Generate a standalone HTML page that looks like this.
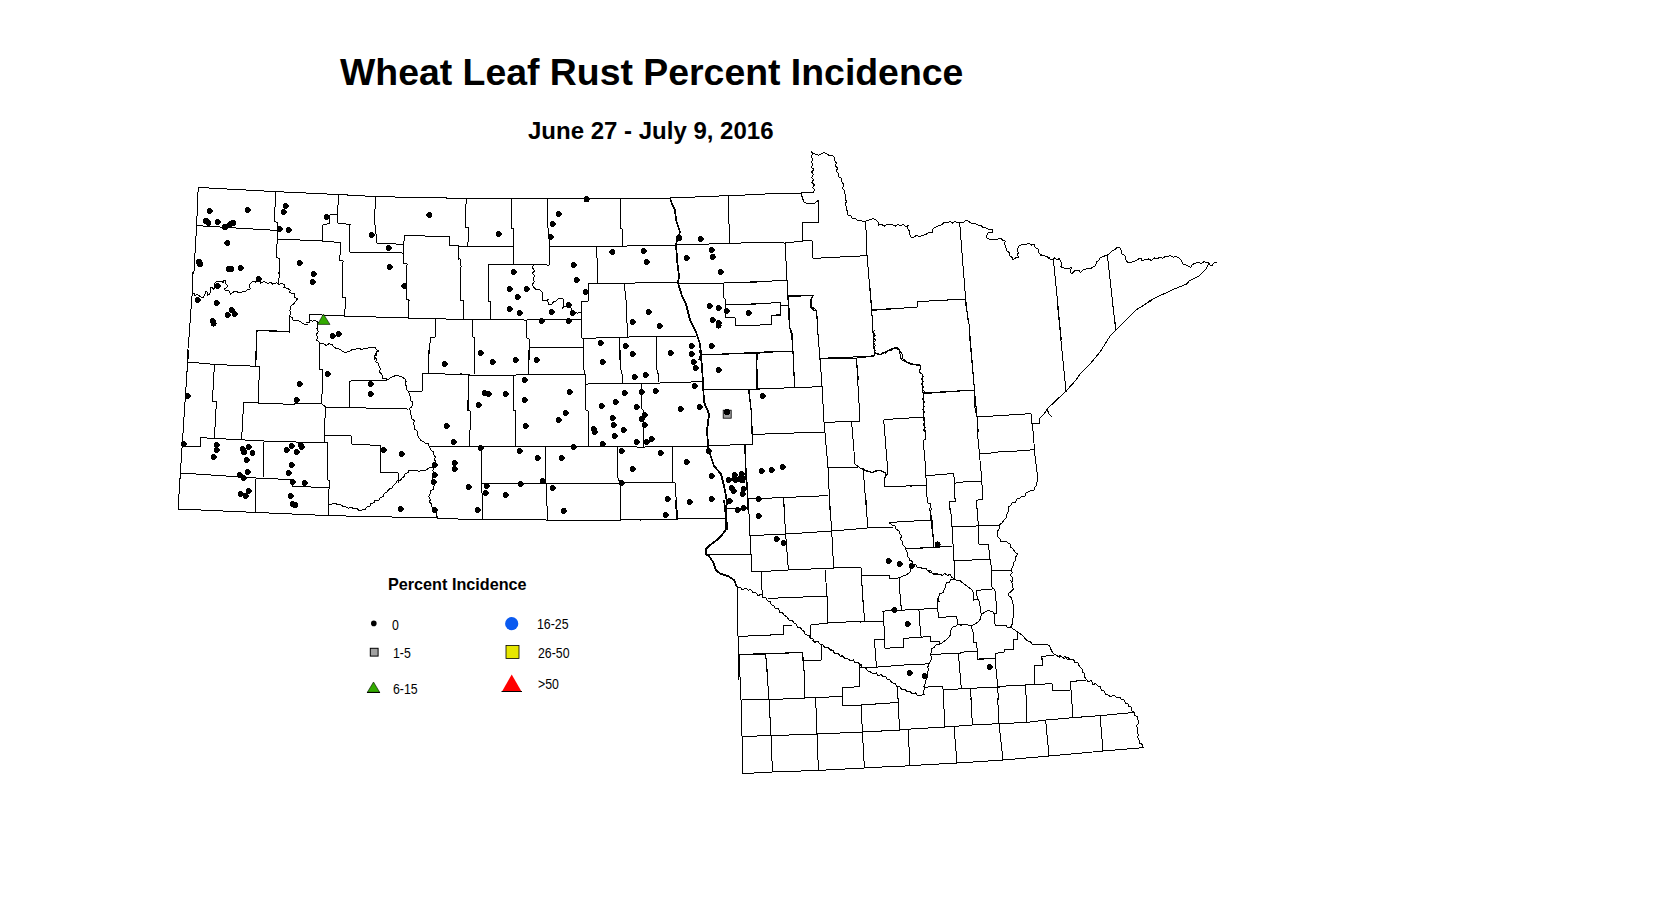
<!DOCTYPE html>
<html><head><meta charset="utf-8">
<style>
html,body{margin:0;padding:0;background:#fff;width:1673px;height:900px;overflow:hidden}
body{position:relative;font-family:"Liberation Sans",sans-serif;color:#000}
.t{position:absolute;white-space:nowrap;line-height:1}
#title{left:340px;top:54px;font-size:37.4px;font-weight:bold}
#sub{left:528px;top:119px;font-size:24px;font-weight:bold}
#lt{left:388px;top:576px;font-size:16.2px;font-weight:bold}
.lab{font-size:14px;transform:scaleX(0.88);transform-origin:0 0}
svg{position:absolute;left:0;top:0}
</style></head><body>
<div class="t" id="title">Wheat Leaf Rust Percent Incidence</div>
<div class="t" id="sub">June 27 - July 9, 2016</div>
<div class="t" id="lt">Percent Incidence</div>
<div class="t lab" style="left:392px;top:618px">0</div>
<div class="t lab" style="left:393px;top:646px">1-5</div>
<div class="t lab" style="left:393px;top:682px">6-15</div>
<div class="t lab" style="left:537px;top:617px">16-25</div>
<div class="t lab" style="left:538px;top:646px">26-50</div>
<div class="t lab" style="left:538px;top:677px">&gt;50</div>
<svg width="1673" height="900" viewBox="0 0 1673 900">
<circle cx="373.8" cy="623.4" r="2.8" fill="#000"/>
<rect x="370.3" y="648.3" width="7.8" height="7.8" fill="#a0a0a0" stroke="#000" stroke-width="1"/>
<polygon points="367.3,692.3 379.7,692.3 373.5,682" fill="#33aa00" stroke="#000" stroke-width="0.6"/><line x1="367" y1="692.5" x2="380" y2="692.5" stroke="#000" stroke-width="1"/>
<circle cx="511.7" cy="623.7" r="6.6" fill="#0a5af0"/>
<rect x="506" y="645.5" width="13" height="13" fill="#e6e600" stroke="#000" stroke-width="0.8"/>
<polygon points="502,691.5 521.5,691.5 511.7,674.5" fill="#ff0000"/><line x1="501.5" y1="691.5" x2="522" y2="691.5" stroke="#000" stroke-width="1"/>
<g fill="none" stroke="#000" stroke-width="1" stroke-linejoin="round" shape-rendering="crispEdges" transform="translate(0.03,0.03)">
<polyline points="187,360 190,324.6"/>
<polyline points="193.8,274 196.6,225.6 198.2,187.4 275.6,191.6 341,194.6 375.6,196.6 432,197.7"/>
<polyline points="196.6,225.6 277,230.4"/>
<polyline points="275.6,191.6 274.4,221 277,222.4 277.4,239 276,257 279.4,258.6 278.9,274"/>
<polyline points="277.4,239 322.4,241 341,242.6"/>
<polyline points="322.4,241 323,225 329,223.6 329.4,215 337.6,214.4 338.4,194.6"/>
<polyline points="337.6,214.4 337.6,223 350,224.4 349.6,252 403,253"/>
<polyline points="375.6,196.6 374.4,220 377,243 404.4,244.4"/>
<polyline points="404.4,235.6 432,236.1"/>
<polyline points="404.4,235.6 403,253 403.6,263 407,264 406,299 409,300 408.4,318"/>
<polyline points="341,242.6 339.6,260 343,261 342.4,297 345.6,298 344.6,316"/>
<polyline points="459.8,258 461,266 460.4,300 463.6,301 463.6,319"/>
<polyline points="309,314.4 344.6,316 408.4,318 470,319.6"/>
<polyline points="309,314.4 309,322.4"/>
<polyline points="435.6,319 435,337 430.4,338 428.4,360"/>
<polyline points="319.6,344 319.6,360"/>
<polyline points="256,360 256.6,330.4 289.6,332 289.8,330"/>
<polyline points="929.6,508 934,546"/>
<polyline points="920,520 932,520"/>
<polyline points="920,548 952,546"/>
<polyline points="950.5,508 952,527 954,561 955,579"/>
<polyline points="977.4,508 979,544 988.4,544 990,559 992,571 1011,570"/>
<polyline points="952,527 999,525"/>
<polyline points="954,561 990,559"/>
<polyline points="738,640 739,654.4 741,700 742,736.4 742.4,773.6 772,772 818,770.4 864,768 900,766"/>
<polyline points="739,654.4 765.6,654 802.4,652.4 803.6,661 821,660.4 821,644"/>
<polyline points="765.6,654 769,699.6 771,735.6 772.4,772"/>
<polyline points="803.6,661 805,698"/>
<polyline points="741,700 769,699.6 805,698 842,696.4"/>
<polyline points="842,688 860,686.4 859,664.4"/>
<polyline points="842,688 842.4,705.6 861,705 898,702.4"/>
<polyline points="861,705 862.4,732 864.4,768"/>
<polyline points="742,736.4 771,735.6 817,734 862.4,732 900,730"/>
<polyline points="815.6,698 817,734 818.4,770.4"/>
<polyline points="898,698 898,702.4 899.6,729.6"/>
<polyline points="900,766.4 910,765.6 957,763 1003,760 1049,756 1103,751 1143,747.6"/>
<polyline points="1134,712.4 1100,715.6 1073,717.6 1046,720 1027,722.4 999,723.6 972,725 945,727 900,729.6"/>
<polyline points="908,729.6 910,765.6"/>
<polyline points="954,727 957,763"/>
<polyline points="999,723.6 1003,760"/>
<polyline points="1045.6,720 1049,756"/>
<polyline points="1100,715.6 1103,751"/>
<polyline points="943.4,698 945,727"/>
<polyline points="970.9,698 972.4,725"/>
<polyline points="997.6,698 999,723.6"/>
<polyline points="1025.6,684.4 1027,722.4"/>
<polyline points="1071,690.4 1073,717.6"/>
<polyline points="998,686.4 1052,683.6 1053,691 1070.4,690 1070.4,681.6 1086,680"/>
<polyline points="1034,666 1042.4,665.6 1042.4,658"/>
<polyline points="1034,666 1035,684"/>
<polyline points="787.8,280 788,296.7 788.9,305.3 789.4,324.4 790.6,332.8 792.4,333.1 792.8,351.1 794.4,380"/>
<polyline points="740,325.6 760,325 771.7,324.4 771.7,315.6 780.6,314.4 780.6,305.6 788.9,305.3"/>
<polyline points="740,353.3 756.7,352.2 792.8,351.1"/>
<polyline points="756.7,352.8 757.2,380"/>
<polyline points="788,296.7 813.3,295.3 811.1,297.8 810.2,306.7 813.3,310 816.4,310.6 817.8,331.1 819.8,358.3 821.7,380"/>
<polyline points="819.8,358.3 874.4,356.1"/>
<polyline points="869.4,280 871.7,310 873.9,346.7 874.4,356.1"/>
<polyline points="871.7,310 900,308"/>
<polyline points="874.4,352.2 880,355 886.7,351.1 895.6,347.2 900,351.1"/>
<polyline points="856.4,357.8 858.3,380"/>
<polyline points="860,622.2 864.4,621.3 883.3,621.1"/>
<polyline points="863.3,600 864.4,621.3"/>
<polyline points="882.2,611.1 901.1,610.2 915.6,609.4 937.2,608.3"/>
<polyline points="900.6,600 901.3,610.2"/>
<polyline points="937.2,600 937.8,608.3 938.3,617.2 956.7,616.7 957.8,624.4 962,624.4"/>
<polyline points="918.9,609.8 920.6,635.6 921.7,637.2"/>
<polyline points="883.3,611.1 885,648.3 903.3,647.2 903.9,638.3 921.7,637.2 930,636.1 930.6,641.1 939.4,641.1 939.4,644.4"/>
<polyline points="874.4,639.4 883.9,639.1"/>
<polyline points="874.4,639.4 876.4,667.2"/>
<polyline points="939.4,644.4 942.2,642.8 947.8,638.3 950,635.6 950.6,630.6 952.2,627.2 956.7,625.6"/>
<polyline points="860,667.2 875.6,667.2 914.4,664.2 928.9,663.9"/>
<polyline points="930,654.4 958.3,653.3 962,652.9"/>
<polyline points="958.3,653.3 961.3,688.9"/>
<polyline points="977.7,658 977.8,659.4 995,658.3 995.1,658"/>
<polyline points="995,658.3 997.8,687.2"/>
<polyline points="924.4,687.2 942.2,686.1 943.3,690 968.3,688.3 997.8,687.2 1000,687.2"/>
<polyline points="943.3,690 943.9,700"/>
<polyline points="970.6,688.3 971.1,700"/>
<polyline points="897.8,687.2 898,700"/>
<polyline points="997.6,686 998.4,700"/>
<polyline points="925.6,430 925.6,438.9 923.3,440.7 923.3,449.6 924.2,450.4 925.1,462.9 925.6,475.3 926,478.4 926.4,485.6 927.3,502.9 930.4,503.3 931.3,510"/>
<polyline points="910,486.4 913.1,485.6 926.4,485.6"/>
<polyline points="925.6,475.5 936.7,474.9 951.3,473.6 953.6,473.4 954.4,480.7 954.9,483.3 954.4,498.4 955.5,498.9 955.5,501.1 949.6,501.6 949.1,510"/>
<polyline points="954.9,483.3 958,482.4 967.8,481.6 981.1,481.4"/>
<polyline points="977.1,430 977.6,435.3 978.9,448.7 979.8,453.6 979.8,458.4 981.1,472.7 981.6,481.6 982.4,487.8 982.9,499.3 976.2,500.2 976.2,508.2 977.6,510"/>
<polyline points="979.8,453.6 988.2,453.3 1003.3,451.3 1010,451.3"/>
<polyline points="430,197.3 446,197.3 446,198.4 530,198.4"/>
<polyline points="466.4,198.4 466.4,203.6 465.6,204 465.6,227.1 468.7,227.6 468.7,241.8 467.3,242.2 467.3,246.2"/>
<polyline points="511.3,198.4 511.3,228.4 513.6,228.4 513.6,260"/>
<polyline points="430,236.4 449.6,236.4 449.6,245.6 458.4,245.6 458.4,260"/>
<polyline points="458.4,246.2 513.6,246.2"/>
<polyline points="192.7,272 192.7,281.3 191.9,297.8 190.5,315 189.4,332"/>
<polyline points="279.5,272 278.5,284.2"/>
<polyline points="289.9,315.8 289.1,332"/>
<polyline points="256.9,332 258.3,330.1 266.9,330.5 287,331.5"/>
<polyline points="960,580.9 963.6,583.6 968.9,587.6 971.6,589.3 973.3,592.4 973.3,600.4 976,599.1 977.8,599.1 979.1,600.9 981.3,614.7"/>
<polyline points="976.4,590.7 985.8,589.3 993.8,588.9 995.1,591.6 996.4,605.8 996.4,613.6"/>
<polyline points="976.4,590.7 977.3,599.1"/>
<polyline points="981.3,614.7 985.8,611.1 988.4,610.7 992.9,611.6 994.2,613.8 996.4,613.6"/>
<polyline points="994.2,613.8 995.1,625.3 998.2,625.8 1000.9,624.9 1006.2,625.8 1008,628 1010.7,627.1"/>
<polyline points="1010.7,580 1012.4,584.4 1013.3,589.3 1008.9,593.3 1008.4,595.6 1011.6,597.8 1013.3,605.8 1013.3,615.6 1012.4,623.6 1010.7,627.1"/>
<polyline points="981.3,614.7 980.4,619.1 977.8,622.2 974.2,624.4 971.1,625.8 965.3,624.4 960,625.3"/>
<polyline points="971.1,625.8 973.3,633.3 973.8,642.2 976.4,642.7 977.3,651.1 977.8,660"/>
<polyline points="960,652.4 973.3,651.1 977.3,651.1"/>
<polyline points="977.3,659.1 983.1,658.7 995.1,658.2 995.6,653.3 1004,652 1004.9,649.3 1013.3,649.3 1013.8,639.6 1017.3,639.1 1017.8,632.4"/>
<polyline points="1010.7,627.1 1016.9,631.6 1022.2,635.1 1026.7,640.4 1031.1,642.2 1032,644 1038.2,644.4 1045.3,644 1049.3,645.3 1051.6,651.1 1054.2,654.2 1060,657.3"/>
<polyline points="991.6,580 992,587.1 993.8,588.9"/>
<polyline points="1041.3,660 1041.8,656.4 1054.2,655.1"/>
<polyline points="992,571 991.6,581"/>
<polyline points="528,198.6 586,198.6 644,198.4 670,198 728,195.6 760,194.4"/>
<polyline points="549,246 596,246.6 646,245.6 676,245 760,242.4"/>
<polyline points="513.6,258 513.6,264"/>
<polyline points="488.6,264.4 549,265 550,246 548,228 547.6,198.6"/>
<polyline points="620.6,198.6 620,228 622.4,229 622.4,246"/>
<polyline points="728,195.6 728,220 729.6,226 729.6,243"/>
<polyline points="488.6,264.4 488.6,301 490.4,302 490.4,319.4"/>
<polyline points="460,319.4 526,320 581,319"/>
<polyline points="581,302 588,301 588.6,283.6 677,282.4"/>
<polyline points="581,302 581.6,338.4"/>
<polyline points="596,246.6 597.6,265 597.6,283"/>
<polyline points="624,283 626,300 627.6,337"/>
<polyline points="581.6,338.4 628,337 696,336"/>
<polyline points="526,320 527,338 529,339 529,360"/>
<polyline points="529,347 583,347"/>
<polyline points="583,338.4 583,360"/>
<polyline points="619.6,338 620,360"/>
<polyline points="656.6,337 657,360"/>
<polyline points="472.4,320 473,337 474.4,338 474.4,360"/>
<polyline points="678,284 724,283 760,281.6"/>
<polyline points="723.6,283 724,298 725.6,300 725,318"/>
<polyline points="725.6,305 760,303.6"/>
<polyline points="725.6,317 735,317.6 735.6,325.6 760,325"/>
<polyline points="700,355 756,352.4 760,352"/>
<polyline points="757,352.4 758,360"/>
<polyline points="750,194.4 801,193 813.6,192.4"/>
<polyline points="801,193 802.4,198 804,202 808,204 814,203.6 818.4,200.4 819,222 802.4,222.4 802.4,241"/>
<polyline points="750,242.4 785,243 802.4,241 812,240.6 813,258.4 867,255.6"/>
<polyline points="865.6,221 867,255.6 872.4,320"/>
<polyline points="959.6,222.4 965.6,299 968,320"/>
<polyline points="871.6,310.4 917,307 917.6,301.6 965.6,299"/>
<polyline points="785,243 787,280 789,320"/>
<polyline points="750,282.4 787,280"/>
<polyline points="788,296 813.6,295 811,300 811,306 816,310 817.6,320"/>
<polyline points="750,304.4 780,302.4 780.4,305.6 789,305.2"/>
<polyline points="780.4,305.6 780.4,315 771,316 771,320"/>
<polyline points="1208.7,263.3 1206.7,268 1198.7,276 1189.3,280.7 1186.7,284 1173.3,289.3 1168,292 1156,297.3 1148,301.3"/>
<polyline points="1053.3,258.7 1061.3,340"/>
<polyline points="1107.3,254.9 1115.7,330.7"/>
<polyline points="860,357 874.4,355.6"/>
<polyline points="871,300 874.4,355.6 875,353 880,355 886,352 892,349 897,347.6 899,350 902,354 902,358 908,363 913,364 920,365 921,368 919,372 922,374 923,393 924,417 924.7,432"/>
<polyline points="923,393 974,390"/>
<polyline points="965,300 969,324 974,384 975,408 977,417 978.1,432"/>
<polyline points="1032.4,424 1035,456 1038,480"/>
<polyline points="1152,300 1136,310 1126,320 1110,336 1100,352 1090,364 1080,374 1076,380 1066,391 1047,409 1044,414 1040,418 1039,423 1032.4,424"/>
<polyline points="1047,409 1049,414 1052,417"/>
<polyline points="1057,300 1066,391.6"/>
<polyline points="1112,300 1116,330"/>
<polyline points="860,468 866,471 872,472.4 880,470 886,473 885,478"/>
<polyline points="189,350 187.6,362 178,509 256,512.4 329,515.6 438,518 470,519.6"/>
<polyline points="256,350 255.6,365.6"/>
<polyline points="187.6,362 214.4,364.4 259.6,366.4"/>
<polyline points="214.4,364.4 212.4,401 216.4,401.6 214.4,437.6"/>
<polyline points="259.6,366.4 258,403"/>
<polyline points="243.6,402.4 294,404.4 294.4,403 321,403.6"/>
<polyline points="243.6,402.4 241.6,439"/>
<polyline points="319,350 319,369 323,370 321.6,403.6 325.6,407 324,435 324.4,442.4 327,443 328,480 330,481 329,488 328.6,515.6"/>
<polyline points="325.6,407 408,409"/>
<polyline points="349.6,381 349.6,407"/>
<polyline points="349.6,381 387,380.4"/>
<polyline points="428.4,350 428.4,373 422.4,373.6 422.4,391 408,391"/>
<polyline points="422.4,373.6 470,374.4"/>
<polyline points="468,391 468,410"/>
<polyline points="469,434 469,446"/>
<polyline points="430,446.4 470,446"/>
<polyline points="181.6,446 200.4,446.4 200.4,437.6 264,441 328,443"/>
<polyline points="264,441 263,477"/>
<polyline points="181,473 256,478 292,479.6 292.4,486 330,488"/>
<polyline points="256,478 255.6,512.4"/>
<polyline points="324,435 351,435.6 351.6,444 381,445.6 380.4,472.4 398,473 398.4,483"/>
<polyline points="474.4,350 474.4,374"/>
<polyline points="528.6,350 528.6,374"/>
<polyline points="583,350 584,370 585,374.4"/>
<polyline points="620,350 621,370 622.4,376 622.4,383.6"/>
<polyline points="656.6,350 657,370 658.4,375 658.4,382"/>
<polyline points="701,355 756,353 760,353"/>
<polyline points="756,353 757,390"/>
<polyline points="460,373.6 469,375 514,375 585,374.4"/>
<polyline points="469,375 467.6,410 470.4,411 469.6,446.6"/>
<polyline points="513.6,375 513.6,410 515.6,411 515.6,447"/>
<polyline points="585,374.4 586,410 588,411 588.6,447"/>
<polyline points="586,384 641,383.6 702,381.6"/>
<polyline points="641,383.6 641,408 643,410 644,447"/>
<polyline points="703,390 760,389"/>
<polyline points="749,389.6 751,408 752.4,434 760,434"/>
<polyline points="460,446.6 644,447 708,446 751.6,444"/>
<polyline points="745,445 746,480 748,499 760,498"/>
<polyline points="481,447 481.6,483.6 483,520"/>
<polyline points="545.6,447 546,484 547.6,520"/>
<polyline points="617,447 618,478 620,483 620.4,520"/>
<polyline points="672.4,447 673,482 675,483 677.6,519"/>
<polyline points="481.6,483.6 620,483 673,482"/>
<polyline points="460,519 547.6,520 620.4,520 677.6,519 726,518"/>
<polyline points="725,508 747,508"/>
<polyline points="748,499 750,530"/>
<polyline points="791,330 793,351 794.4,387"/>
<polyline points="740,353.6 793,351"/>
<polyline points="756.4,353 757.6,389.6"/>
<polyline points="817.6,330 820,359 822,386.6 824,422 828,468 830,510"/>
<polyline points="820,359 856.4,358 874.4,356"/>
<polyline points="856.4,358 860,421 824,422.4"/>
<polyline points="740,389.6 822,386.6"/>
<polyline points="748.4,389.6 751,410 752,434.4 753,444 740,445"/>
<polyline points="752,434.4 823.6,432"/>
<polyline points="744.4,445 747,482 748,510"/>
<polyline points="748,499 828,495.6"/>
<polyline points="783.6,498 784.4,510"/>
<polyline points="923,393.6 974.4,390"/>
<polyline points="969,330 974.4,390 977,417 978.2,432"/>
<polyline points="977,508 977,510"/>
<polyline points="883.6,419.6 924,417"/>
<polyline points="883.6,419.6 888,473 884.4,478 885,487 912,485.7"/>
<polyline points="851.6,422 855,464 860,468 865,470 872,472.4 878,470 886,473"/>
<polyline points="828,468 858,467"/>
<polyline points="863,468 866.4,510"/>
<polyline points="950,508 950,510"/>
<polyline points="977,417 1031,413.6 1032,424 1040,423"/>
<polyline points="1008,451.7 1034.4,449.6"/>
<polyline points="640,520 677,519 726,518.4"/>
<polyline points="675,500 677,519"/>
<polyline points="725,508.4 747,508"/>
<polyline points="747,500 749.6,518 750,536 751,554 752,572"/>
<polyline points="706,555 751,554"/>
<polyline points="750,535.6 786,534 832,531 867,528 893,527"/>
<polyline points="783.6,500 785.6,534 788.4,570"/>
<polyline points="829.6,500 831.6,530 833.6,568"/>
<polyline points="866,500 867.6,528"/>
<polyline points="929.6,508 932,520 934,548"/>
<polyline points="889,522.4 932,520"/>
<polyline points="906,549 940,547"/>
<polyline points="752,572 760,571.6 788,570 833,568 861,567.6"/>
<polyline points="861,567.6 862.9,602"/>
<polyline points="862,576 889,575 890,579 898,578 906,575 910,572 913,564"/>
<polyline points="899,578 900.5,602"/>
<polyline points="761,572 762.4,598"/>
<polyline points="768,598.4 827,596"/>
<polyline points="825,569.6 827,596 828,623"/>
<polyline points="737,587 738,636 739,680"/>
<polyline points="738,636.4 783.6,634.4 783.6,625.6 792,625"/>
<polyline points="810.4,625 828,623 862,621.1"/>
<polyline points="810.4,625 810.4,638"/>
<polyline points="938,596 938,602"/>
<polyline points="739,654.4 766,653.6 802,652.4 803,661 821,660 821,645"/>
<polyline points="765.6,654 768,680"/>
<polyline points="803,661 805,680"/>
<polyline points="859,663 860,680"/>
<polyline points="306,323 309,322.4 310,320 312.5,321.3 315,320 318,322.4 317.6,326 316.9,328.8 318.4,331.7 316.3,334.3 317.4,337.2 316.6,340 318.8,341.6 320,344 323,343.4 326,345.4 329,343.7 332,344.4 334,347 336.7,348.9 340,349 342.5,351.6 346,352.4 350,351 352.7,349.2 356,349 359.1,348.4 362,349.6 364.5,348.2 367.5,348.4 370,347 372.5,347.7 375,347 376.3,349.7 379,351 376.4,352.4 375,355 374.2,357.5 375,360"/>
<polyline points="1038,480 1036.6,482.3 1037,485 1034.8,487.1 1034,490 1030.8,490.3 1028,492 1025.6,493.3 1025,496 1022.1,496 1020,498 1017,499.1 1015.2,502.1 1012,503 1010.7,505.7 1008,507"/>
<polyline points="1008,507 1008.7,510.7 1007,514 1006.5,517.5 1004,520 1002,523 999,525 999.8,528.2 997.5,530.9 997.6,534 997.6,536.9 1000.3,539 1000,542 1003,541.2 1006,541.6 1010,544 1010.7,547 1013,549 1014.9,551.9 1017.6,554 1015.8,556.7 1016,560 1013.5,562.5 1013,566 1011,570 1012.2,572.4 1010.3,575.1 1012.5,577.4 1012,580 1013.1,582"/>
<polyline points="1058,656.1 1060,656 1062.3,657.3 1065.2,656.7 1067.2,659.1 1070,659"/>
<polyline points="920,567 922.8,568.7 926,568 927.3,570.6 930.8,570.4 932,573 934.8,573.3 937,575 939.5,574 942.3,575.4 944.7,573.2 947.5,575.5 950,574 951.5,576.9 954,579 957.3,580.6 961,581 962,582.5"/>
<polyline points="954,579 951,579.6 949,582.4 946,583 945.9,586.8 944,590 943.3,592.8 939.9,593.3 939,596 937.7,598.9 939.2,602"/>
<polyline points="812,640 814.1,642.4 817.9,641.5 820,644 822.9,644.5 824.6,647.3 827.8,647.2 830,649 832.8,650.3 834.6,653.1 837.9,653.7 840,656 843.1,655.9 845.1,658.6 848,659 850.3,660.5 853.5,659.8 855.2,662.9 858,663 860.7,665.5 862,666.1"/>
<polyline points="1058,656 1061.2,655.9 1063.7,658.7 1067.3,657 1070,659 1073.2,659.2 1075,662.4 1078,663 1079.4,666.4 1082,669 1082.4,671.8 1084.6,673.8 1084.4,676.7 1086,679 1087.9,681.3 1091.4,680.7 1092.6,684.2 1096,683.8 1098,686 1100.7,687 1101.2,690.4 1104.4,691 1105.3,694 1108,695 1110.8,696.7 1114.2,694.9 1116.8,697.6 1120,697 1121.4,699.4 1124.4,700 1125.3,703.1 1128,704 1128.9,706.5 1131.9,707.3 1131.5,710.8 1134,712 1134.6,715 1137.4,717 1138,720 1139,723.1 1136.4,725.9 1137.9,729.1 1137,732 1138.3,734.5 1137.7,737.5 1139,740 1139.3,743.1 1142.7,744.5 1143,747.6"/>
<polyline points="939.4,644.4 935.6,645 933.9,647.6 931.1,648.9 931.5,651.8 930,654.4 931.5,657 931.1,660 928.9,664.4 927.8,666.9 928.6,669.8 927.2,672.2 927.8,676.7 926.1,679.2 925.6,682.2 923.9,686.7 924.6,689.2 923.1,691.9 924.4,694.4 920,695.6 917.3,695.2 915.3,692.8 912.1,693.7 910,691.7 907,691.6 904.9,689 901.7,689.6 899.7,686.8 896.7,686.7 895.3,683.7 891.8,682.6 890,680 887.2,679.1 885.6,676.7 883,676.6 881,674.5 878,675.5 876.2,672.8 873.2,673.9 871.1,672.2 867.7,670.9 865.6,667.8 862.2,667.2 860,664.4"/>
<polyline points="192.7,293.5 194.5,293.5 194.8,295.3 197.3,294.6 199.5,296 201.3,297.5 203.4,297.1 205.2,293.5 205.6,291.4 207,291.7 207.7,295.3 209.5,294.2 210.6,290.7 210.2,287.4 212.4,287.4 213.5,289.6 214.9,288.5 214.2,283.8 216.3,281.3 221,281.3 223.2,282.4 223.9,280.6 225.7,281 224.9,282.8 227.5,285.3 227.1,287.1 224.9,288.5 224.6,289.9 226.7,290.7 228.9,291 230.3,293.9 231,294.2 232.5,292.4 234.6,291.4 237.5,291.7 238.2,292.8 241.1,292.4 242.5,291.4 246.1,291 246.8,289.9 250.4,288.9 249,286.3 249.7,284.6 252.6,281.3 255.2,282.2 257.9,280.3 260.5,281.3 260.8,283.5 261.2,282.4 264.4,281.5 267.7,283.3 270.9,282.4 271.9,284.2 274.8,283.1 277,282.8 278.4,284.2 282.7,283.5 284.8,285.3 283.8,287.4 287.7,288.5 290.2,289.9 289.5,292.8 294.2,293.5 294.5,297.1 297.4,298.9 296.3,300.7 293.8,303.6 290.6,306.4 289.9,310.7 290.8,313.3 289.5,315.8 292.2,317.8 293.5,320.8 296.8,320.2 299.9,321.5 302.8,323.3 305.2,324.7 308,324.4"/>
<polyline points="533.6,265 532.3,267.8 534.7,270.5 532.4,273.2 534.9,276 532.9,278.8 534.5,281.5 532.3,284.2 533.6,287 536.3,289.6 540,290 542,292 542.9,294.9 542.1,298.1 543,301 545.8,300.8 548,299 547.9,302.1 549,305 551.7,304.3 553.4,301.8 556,301 559,298 562,298 563.8,300.2 563.6,303 563.9,306.3 562,309 564.5,306.6 568,306.4 571,308 572,310.4 574,312 577.5,313.1 581,312"/>
<polyline points="813.6,192.4 814.5,189.8 812.7,187.3 814.4,184.7 811.8,182.3 813.6,179.6 811.6,177.2 813.5,174.5 811.7,172 813.8,169.4 811.2,167 812.9,164.3 811.3,161.8 812.9,159.2 811.1,156.7 812.4,154.1 811.6,151.6 813.4,153.6 816,154.4 818.6,155.3 821,154 824,152.4 827,154 829.1,155.5 832,155.1 834,157 835,158 834.6,160.7 836.4,163.1 835.5,165.8 837.7,168.1 836.2,171 838.1,173.3 838,176 841.1,178.3 842,182 843.8,184.7 842.3,188.3 844.8,190.9 845,194 845.9,196.5 844.8,199 846.6,201.4 845,204 846.4,206.5 846,209 847.8,211.7 848,215 850.7,215.5 852,218 855.5,218.5 858,221 860.5,220.3 863.1,221.6 865.6,221 870,219.6 873.1,218.6 876,220 878,222 878.4,225 881.3,224 884.2,226.1 887.1,224.4 890,225 892.6,224.5 895.1,226.2 897.7,224.4 900.3,225.9 902.9,224.2 905.4,226.5 908,225.6 907.9,229.1 910,232 909.7,234.6 910.6,237 914,237 916.5,235.4 919.4,236.6 922,235.6 926,234.4 928.7,232.5 932,233 932.2,230.2 934,228 938,226 941.4,224.9 944,222.4 947.1,222.9 950,221.6 952.4,223 955.1,221.3 957.5,222.8 960,222.4 962.8,222.8 965.2,220.8 968,221 970,222.4 972.5,223.8 975.5,223.5 978,225 980.9,225.5 983.1,227.6 986,228 988.9,229.2 992,229 992.4,232 988,233 986.8,235.4 987,238 990.3,239.6 994,239 997.6,239.2 1001,238 1002.5,240.2 1005,241 1004.9,244.6 1006,248 1006.7,250.8 1009.2,252.5 1009.6,255.6 1012,257.3 1013,260 1015.6,257.8 1019,257.6 1017.4,255.3 1018.3,252.4 1017,250 1019,246 1022.3,244.3 1026,244.4 1028.7,243.2 1031.3,245 1034,244.4 1035.1,247.5 1038,249 1038.2,251.8 1040,254 1042.7,255.9 1046,256 1050,258"/>
<polyline points="1040,254.9 1044,255.7 1047.3,256.7 1049.3,258.7 1051.8,259.9 1054.3,257.9 1056.8,259.6 1059.3,258.7 1060.7,261.3 1061.8,264 1060.7,266.7 1064,268 1067.8,268.9 1071.3,267.3 1070.5,270.6 1071.3,274 1074.7,270.7 1079.3,270.7 1080.7,272.7 1082.3,270.2 1085.3,269.6 1087.8,268.1 1090.7,268.7 1093.3,266.7 1095.8,265.4 1096.3,262.1 1098.7,260.7 1100.1,258.1 1102.7,256.7 1107.3,254.9 1110,253.2 1112,250.7 1114.7,249.7 1116.7,247.7 1120,248 1121.2,250.5 1121.3,253.3 1125.3,256 1125.6,259.8 1128,262.9 1130.9,262.8 1133.3,261.3 1136.3,260.7 1138.7,258.9 1141.3,258.7 1141.6,260.7 1145.3,259.7 1148.3,258.9 1151.4,260.5 1154.2,257.9 1157.3,258.9 1159.7,257.2 1162.8,258.3 1165.2,256.3 1168,256.3 1170.7,255.6 1173.3,257.2 1176,256.3 1179.3,258 1181.5,260.7 1182.7,264 1186.7,265.3 1190.7,267.3 1192.1,264.7 1194.7,263.3 1198.7,262.4 1201.3,263.3 1204.1,261.5 1206.7,262.9 1208.7,262 1209.4,264.8 1212,266 1213.3,263.3 1217.3,262"/>
<polyline points="379,350 376.6,351.8 376.2,355.1 374,357 376.4,358.6 375.8,361.9 378.4,363.4 379,366 380.2,368.9 379.7,372.2 382.1,374.8 382,378 385.3,378.1 388,380 389.6,378 392,377 395.4,375.6 399,376 402.2,377 405,379 406,381.4 404.9,384.1 406.6,386.4 406,389 407.9,390.7 409,393 410,396.4 410,400 412.1,401.6 413,404 411.5,406.9 409,409 410.9,411 410.2,414 412,416 411.7,418.8 414.5,420.7 413.2,423.8 415,426 414.5,429 417.1,431.1 417,434 419,438 421,440.6 424,442 426.2,443.8 429,443 428.9,445.6 430,448 431.2,450.8 434,452 433.5,454.7 435.5,456.9 434.4,459.7 436,462 433.8,464.6 434,468 432.8,470.4 434.6,473.1 432.1,475.4 433,478 432.7,480.7 434.6,483.2 434,486 433.5,489.1 430.3,490.8 430,494 428.5,496.5 430.5,499.5 429,502 431.3,503.4 431,506.7 434.3,507.4 435,510 437,512.3 436.4,515.6 438,518"/>
<polyline points="329,504 331.6,504 334,503 336.9,504.1 340,504 342.6,506.2 346,507 348.5,508.2 351.6,507.2 354,509 356.8,508.4 359.2,510.7 362,510 365,509.4 367,507 369.8,506.4 370.8,503.3 373.8,502.9 375,500.1 378.5,500.4 380,498 382.9,496.7 384.1,493.3 387,492 388.9,489.2 392,488 393.6,485.2 396,483 397.3,480.5 400.4,480.2 402,478 404.2,476.4 405,473.5 408.1,472.7 409,470 413,471 415.9,470 419.1,471.4 422,470 425.9,470.2 429,468 432,467.3 434,465"/>
<polyline points="874.4,330 873.6,332.6 875.3,335.1 873.4,337.7 875.5,340.2 873.4,342.8 875.4,345.3 873.8,347.9 875,350.4 874.4,353 877.4,353.3 880,355 882.2,352.7 885.7,353 888,351 891,350.7 893.1,348.3 896,347.6 899,349 899,351.6 900,354 900.3,357.2 902,360 906,362 909,362.6 911,365 914,364 917.4,365.5 921,365 920,369 919,372 922,374 923.2,376.4 921.5,379 923.3,381.5 921.6,384 923.5,386.5 922.2,389 924.1,391.4 923,394 923.8,396.5 921.9,399.2 924.6,401.6 922.9,404.2 924.4,406.7 922.5,409.4 925.1,411.8 923,414.5 924,417 923.4,419.6 924.9,422.1 923.1,424.7 925.1,427.2 923.6,429.8 925.1,432"/>
<polyline points="928.8,508 930,510"/>
<polyline points="889,522.4 891.6,524.8 895,526 896,529.1 899,530.9 900,534 901.8,536.2 900,539.2 902.3,541.3 902,544 904.7,546.5 906,550 907.2,552.9 907,556 908.9,557.7 909.5,560.3 912.4,561.3 913,564 915.6,564.3 917.2,567.1 920,567 922.8,568.7 926,569 928.6,571.6 932,573 934.4,574.5 937.5,573.7 940,575"/>
<polyline points="737,587 740,587 742.2,589.7 745.6,588.1 748,590 751.1,589.9 753,592.9 756,593 757.9,595.4 761.6,594.4 763.1,597.6 766,598 767.2,600.8 770.4,601.6 771.2,604.8 774,606 775.4,608.4 778.7,608.8 779.3,612.2 782.5,612.7 784,615 786.9,617.1 789,620 792.1,620.4 794,623 796.4,624.3 797.4,627.2 800.5,627.7 802,630 804.5,631.5 805.2,634.8 808.9,635.1 810,638 812.9,638.9 814.5,641.9 817.9,641.9 820,644 823,644.7 824.6,647.7 827.8,648 830,650 832.8,651 834.7,653.6 838.1,653.4 840,656 843,656.2 845.1,658.6 848,659 849.9,661.1 853.3,659.8 854.9,662.8 857.8,662.4 860,664 862,664.9"/>
<polyline stroke-width="1.8" points="670,198 672,204 675,210 676,220 680,232 679,235 676,244 677,260 679,276 678,283 682,296 686,304 690,320 696,332 700,344 701,354 699,360"/>
<polyline stroke-width="1.8" points="700,350 702,366 703,384 704,402 709,414 707,430 708,446 710,454 714,466 721,474 724,486 727,502 726,510 727,530"/>
<polyline stroke-width="1.8" points="724,500 725,508 726,518 726.4,526 725,531 721,536 717,540 710,545 706,549 706,554 709,556 713,562 716,570 720,573.6 728,576 734,580 737,587"/>
</g>
<rect x="723.2" y="410.2" width="8" height="8" fill="#a0a0a0" stroke="#000" stroke-width="0.8"/>
<g fill="#000" shape-rendering="crispEdges">
<circle cx="209.6" cy="211" r="3"/>
<circle cx="247.6" cy="210" r="3"/>
<circle cx="206" cy="221" r="3"/>
<circle cx="208.4" cy="223" r="3"/>
<circle cx="217.6" cy="222" r="3"/>
<circle cx="225" cy="227" r="3"/>
<circle cx="230" cy="224.4" r="3"/>
<circle cx="233" cy="223" r="3"/>
<circle cx="285.6" cy="206" r="3"/>
<circle cx="283.6" cy="212" r="3"/>
<circle cx="279.6" cy="229" r="3"/>
<circle cx="288.6" cy="230" r="3"/>
<circle cx="326.6" cy="217" r="3"/>
<circle cx="429.4" cy="215" r="3"/>
<circle cx="371.6" cy="235" r="3"/>
<circle cx="388.6" cy="248" r="3"/>
<circle cx="227.4" cy="243" r="3"/>
<circle cx="199" cy="262" r="3"/>
<circle cx="200" cy="264" r="3"/>
<circle cx="229" cy="269" r="3"/>
<circle cx="231" cy="269" r="3"/>
<circle cx="240.6" cy="268" r="3"/>
<circle cx="299.6" cy="263" r="3"/>
<circle cx="313.6" cy="274" r="3"/>
<circle cx="312.6" cy="282" r="3"/>
<circle cx="389.6" cy="267" r="3"/>
<circle cx="404.4" cy="286" r="3"/>
<circle cx="258.6" cy="279" r="3"/>
<circle cx="217.6" cy="286" r="3"/>
<circle cx="197.6" cy="300" r="3"/>
<circle cx="216.6" cy="303" r="3"/>
<circle cx="231.6" cy="310" r="3"/>
<circle cx="234.6" cy="314" r="3"/>
<circle cx="227.6" cy="315" r="3"/>
<circle cx="212.6" cy="321" r="3"/>
<circle cx="213.6" cy="323.6" r="3"/>
<circle cx="332.6" cy="336" r="3"/>
<circle cx="338.6" cy="334" r="3"/>
<circle cx="937.6" cy="544.4" r="3"/>
<circle cx="909.6" cy="673" r="3"/>
<circle cx="924.6" cy="676" r="3"/>
<circle cx="989.6" cy="667" r="3"/>
<circle cx="907.6" cy="624" r="3"/>
<circle cx="894.4" cy="610" r="3"/>
<circle cx="586.6" cy="199.2" r="3"/>
<circle cx="558.6" cy="214" r="3"/>
<circle cx="552.6" cy="224" r="3"/>
<circle cx="550.6" cy="237" r="3"/>
<circle cx="498.6" cy="234" r="3"/>
<circle cx="679" cy="238" r="3"/>
<circle cx="700.6" cy="239" r="3"/>
<circle cx="612.4" cy="252" r="3"/>
<circle cx="643.6" cy="251" r="3"/>
<circle cx="646.6" cy="262" r="3"/>
<circle cx="686.6" cy="258" r="3"/>
<circle cx="711.6" cy="250" r="3"/>
<circle cx="712.6" cy="257" r="3"/>
<circle cx="720.6" cy="272" r="3"/>
<circle cx="573.6" cy="265" r="3"/>
<circle cx="576.6" cy="280" r="3"/>
<circle cx="585.6" cy="292" r="3"/>
<circle cx="513.6" cy="272" r="3"/>
<circle cx="509.6" cy="289" r="3"/>
<circle cx="526.6" cy="289" r="3"/>
<circle cx="517.6" cy="297" r="3"/>
<circle cx="509.6" cy="309" r="3"/>
<circle cx="519.6" cy="313" r="3"/>
<circle cx="551.6" cy="312" r="3"/>
<circle cx="568.6" cy="305" r="3"/>
<circle cx="572.6" cy="313" r="3"/>
<circle cx="541.6" cy="321" r="3"/>
<circle cx="568.6" cy="321" r="3"/>
<circle cx="648.6" cy="312" r="3"/>
<circle cx="632.6" cy="322" r="3"/>
<circle cx="659.6" cy="326" r="3"/>
<circle cx="709.6" cy="306" r="3"/>
<circle cx="718.6" cy="308" r="3"/>
<circle cx="726.6" cy="311" r="3"/>
<circle cx="748.6" cy="313" r="3"/>
<circle cx="712.6" cy="320" r="3"/>
<circle cx="718.6" cy="323" r="3"/>
<circle cx="718.6" cy="325.6" r="3"/>
<circle cx="600.6" cy="343" r="3"/>
<circle cx="625.6" cy="346" r="3"/>
<circle cx="632.6" cy="354" r="3"/>
<circle cx="670.6" cy="353" r="3"/>
<circle cx="691.6" cy="346" r="3"/>
<circle cx="691.6" cy="354" r="3"/>
<circle cx="711.6" cy="346" r="3"/>
<circle cx="480.6" cy="353" r="3"/>
<circle cx="187.6" cy="396" r="3"/>
<circle cx="327.6" cy="374" r="3"/>
<circle cx="299.6" cy="384" r="3"/>
<circle cx="296.6" cy="400" r="3"/>
<circle cx="370.6" cy="384" r="3"/>
<circle cx="370.6" cy="394" r="3"/>
<circle cx="444.6" cy="364" r="3"/>
<circle cx="446.6" cy="426" r="3"/>
<circle cx="453.6" cy="442" r="3"/>
<circle cx="183.6" cy="444" r="3"/>
<circle cx="216.6" cy="445" r="3"/>
<circle cx="216.6" cy="450" r="3"/>
<circle cx="213.6" cy="457" r="3"/>
<circle cx="242.6" cy="449" r="3"/>
<circle cx="244" cy="452" r="3"/>
<circle cx="248.6" cy="447" r="3"/>
<circle cx="252.6" cy="453" r="3"/>
<circle cx="246.6" cy="460" r="3"/>
<circle cx="247.6" cy="472" r="3"/>
<circle cx="239.6" cy="475" r="3"/>
<circle cx="243.6" cy="478" r="3"/>
<circle cx="248.6" cy="491" r="3"/>
<circle cx="240.6" cy="494" r="3"/>
<circle cx="245.6" cy="496" r="3"/>
<circle cx="291.6" cy="446" r="3"/>
<circle cx="300.6" cy="445" r="3"/>
<circle cx="301.6" cy="447" r="3"/>
<circle cx="286.6" cy="450" r="3"/>
<circle cx="296.6" cy="452" r="3"/>
<circle cx="291.6" cy="465" r="3"/>
<circle cx="288.6" cy="473" r="3"/>
<circle cx="292.6" cy="482" r="3"/>
<circle cx="304.6" cy="483" r="3"/>
<circle cx="290.6" cy="496" r="3"/>
<circle cx="292.6" cy="504" r="3"/>
<circle cx="295" cy="505" r="3"/>
<circle cx="383.6" cy="450" r="3"/>
<circle cx="401.6" cy="454" r="3"/>
<circle cx="434.6" cy="465" r="3"/>
<circle cx="454.6" cy="463" r="3"/>
<circle cx="454.6" cy="469" r="3"/>
<circle cx="434.6" cy="475" r="3"/>
<circle cx="433.6" cy="482" r="3"/>
<circle cx="468.6" cy="487" r="3"/>
<circle cx="400.6" cy="509" r="3"/>
<circle cx="434.6" cy="510" r="3"/>
<circle cx="492.6" cy="362" r="3"/>
<circle cx="515.6" cy="360" r="3"/>
<circle cx="536.6" cy="360" r="3"/>
<circle cx="602.6" cy="362" r="3"/>
<circle cx="693.6" cy="362" r="3"/>
<circle cx="695.6" cy="368" r="3"/>
<circle cx="718.6" cy="370" r="3"/>
<circle cx="634.6" cy="377" r="3"/>
<circle cx="645.6" cy="375" r="3"/>
<circle cx="694.6" cy="386" r="3"/>
<circle cx="524.6" cy="380" r="3"/>
<circle cx="484.6" cy="393" r="3"/>
<circle cx="488.6" cy="394" r="3"/>
<circle cx="505.6" cy="394" r="3"/>
<circle cx="478.6" cy="405" r="3"/>
<circle cx="524.6" cy="400" r="3"/>
<circle cx="569.6" cy="392" r="3"/>
<circle cx="565.6" cy="413" r="3"/>
<circle cx="558.6" cy="420" r="3"/>
<circle cx="525.6" cy="426" r="3"/>
<circle cx="624.6" cy="393" r="3"/>
<circle cx="615.6" cy="402" r="3"/>
<circle cx="601.6" cy="406" r="3"/>
<circle cx="636.6" cy="407" r="3"/>
<circle cx="641.6" cy="392" r="3"/>
<circle cx="655.6" cy="391" r="3"/>
<circle cx="680.6" cy="409" r="3"/>
<circle cx="699.6" cy="407" r="3"/>
<circle cx="612.6" cy="418" r="3"/>
<circle cx="613.6" cy="425" r="3"/>
<circle cx="623.6" cy="430" r="3"/>
<circle cx="593.6" cy="429" r="3"/>
<circle cx="594.6" cy="432" r="3"/>
<circle cx="614.6" cy="436" r="3"/>
<circle cx="602.6" cy="444" r="3"/>
<circle cx="636.6" cy="442" r="3"/>
<circle cx="646.6" cy="442" r="3"/>
<circle cx="651.6" cy="439" r="3"/>
<circle cx="644.6" cy="415" r="3"/>
<circle cx="641.6" cy="419" r="3"/>
<circle cx="644.6" cy="425" r="3"/>
<circle cx="480.6" cy="448" r="3"/>
<circle cx="573.6" cy="447" r="3"/>
<circle cx="519.6" cy="451" r="3"/>
<circle cx="537.6" cy="458" r="3"/>
<circle cx="561.6" cy="458" r="3"/>
<circle cx="621.6" cy="451" r="3"/>
<circle cx="660.6" cy="453" r="3"/>
<circle cx="686.6" cy="462" r="3"/>
<circle cx="632.6" cy="469" r="3"/>
<circle cx="708.6" cy="451" r="3"/>
<circle cx="711.6" cy="476" r="3"/>
<circle cx="542.6" cy="481" r="3"/>
<circle cx="520.6" cy="484" r="3"/>
<circle cx="486.6" cy="486" r="3"/>
<circle cx="485.6" cy="493" r="3"/>
<circle cx="505.6" cy="495" r="3"/>
<circle cx="552.6" cy="488" r="3"/>
<circle cx="621.6" cy="483" r="3"/>
<circle cx="734.6" cy="475" r="3"/>
<circle cx="741.6" cy="474" r="3"/>
<circle cx="728.6" cy="480" r="3"/>
<circle cx="735.6" cy="480" r="3"/>
<circle cx="739.6" cy="479" r="3"/>
<circle cx="731.6" cy="488" r="3"/>
<circle cx="733.6" cy="491" r="3"/>
<circle cx="743.6" cy="489" r="3"/>
<circle cx="742.6" cy="494" r="3"/>
<circle cx="729.6" cy="501" r="3"/>
<circle cx="711.6" cy="499" r="3"/>
<circle cx="689.6" cy="502" r="3"/>
<circle cx="667.6" cy="499" r="3"/>
<circle cx="665.6" cy="515" r="3"/>
<circle cx="563.6" cy="511" r="3"/>
<circle cx="477.6" cy="510" r="3"/>
<circle cx="737.6" cy="510" r="3"/>
<circle cx="743.6" cy="508" r="3"/>
<circle cx="758.6" cy="499" r="3"/>
<circle cx="758.6" cy="516" r="3"/>
<circle cx="727" cy="412" r="3"/>
<circle cx="742" cy="477.5" r="3"/>
<circle cx="742.5" cy="480.2" r="3"/>
<circle cx="734.4" cy="478.3" r="3"/>
<circle cx="762.6" cy="396" r="3"/>
<circle cx="761.6" cy="471" r="3"/>
<circle cx="771.6" cy="470" r="3"/>
<circle cx="782.6" cy="467" r="3"/>
<circle cx="776.6" cy="539" r="3"/>
<circle cx="783.6" cy="543" r="3"/>
<circle cx="888.6" cy="561" r="3"/>
<circle cx="899.6" cy="564" r="3"/>
<circle cx="911.6" cy="566" r="3"/>
</g>
<polygon points="323.4,314 317.6,324.4 330,324.4" fill="#33aa00" stroke="#000" stroke-width="0.6"/>
</svg>
</body></html>
